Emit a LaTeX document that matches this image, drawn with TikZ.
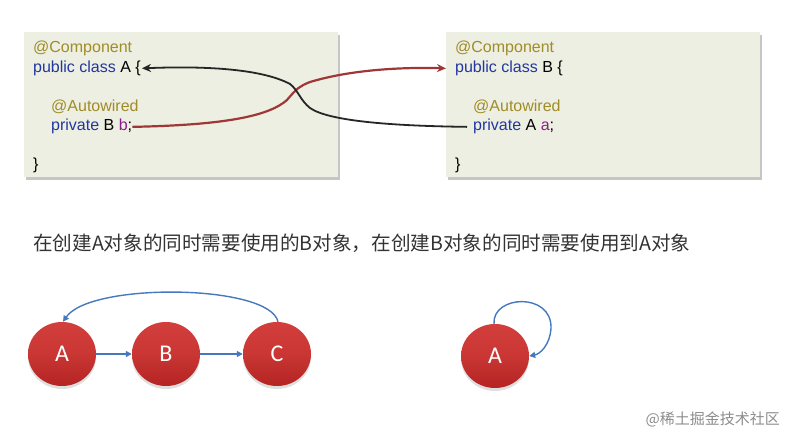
\documentclass[tikz,border=0pt]{standalone}
\usepackage{fontspec}
\setmainfont{Liberation Sans}
\newfontfamily\cjk{Noto Sans CJK SC}
\newfontfamily\calib{Carlito}
\usetikzlibrary{shapes.geometric,shadows,arrows.meta}
\definecolor{boxfill}{RGB}{236,239,225}
\definecolor{ann}{RGB}{160,140,40}
\definecolor{kw}{RGB}{35,55,160}
\definecolor{fld}{RGB}{140,30,140}
\definecolor{redline}{RGB}{160,55,55}
\definecolor{blueline}{RGB}{70,120,190}
\definecolor{balltop}{RGB}{210,62,60}
\definecolor{ballbot}{RGB}{180,36,34}
\begin{document}
\begin{tikzpicture}[x=1pt,y=-1pt,
  codebox/.style={fill=boxfill, draw=none, anchor=north west, minimum width=314pt, minimum height=145pt,
    drop shadow={opacity=0.45, shadow xshift=2pt, shadow yshift=-2.5pt}},
  code/.style={anchor=base west, inner sep=0pt, font=\fontsize{16}{19}\selectfont},
  ball/.style={ellipse, minimum width=68pt, minimum height=64pt, inner sep=0pt,
    top color=balltop, bottom color=ballbot, middle color=balltop!70!ballbot,
    text=white, font=\calib\fontsize{24}{26}\selectfont,
    drop shadow={opacity=0.25, shadow xshift=0pt, shadow yshift=-3pt}},
  bluearrow/.style={draw=blueline, line width=1.4pt, -{Triangle[length=6pt,width=6pt]}},
]
\useasboundingbox (0,0) rectangle (786,435);

% code boxes
\node[codebox] (boxA) at (24,32) {};
\node[codebox] (boxB) at (446,32) {};

% left box code
\node[code] (a1) at (33,53) {\color{ann}@Component};
\node[code] (a2) at (33,72.5) {\color{kw}public class \color{black}A \{};
\node[code] (a3) at (51,111.5) {\color{ann}@Autowired};
\node[code] (a4) at (51,131) {\color{kw}private \color{black}B \color{fld}b\color{black};};
\node[code] (a5) at (33,170) {\}};

% right box code
\node[code] (b1) at (455,53) {\color{ann}@Component};
\node[code] (b2) at (455,72.5) {\color{kw}public class \color{black}B \{};
\node[code] (b3) at (473,111.5) {\color{ann}@Autowired};
\node[code] (b4) at (473,131) {\color{kw}private \color{black}A \color{fld}a\color{black};};
\node[code] (b5) at (455,170) {\}};

% crossing connectors
\draw[redline, line width=2.2pt, -{Stealth[length=9pt,width=8pt]}]
  (a4.east) .. controls (230,125) and (270,115) .. (287,100)
  .. controls (297,88) and (300,86) .. (310,82)
  .. controls (350,70) and (400,67) .. ([xshift=-9pt]b2.west);
\draw[black!85, line width=1.8pt, -{Stealth[length=9pt,width=8pt]}]
  ([xshift=-6pt]b4.west) .. controls (400,126) and (330,122) .. (310,108)
  .. controls (300,100) and (298,90) .. (290,84)
  .. controls (260,68) and (200,66) .. ([xshift=1pt]a2.east);

% description
\node[anchor=base west, inner sep=0pt, text=black!80, font=\cjk\fontsize{19.6}{20}\selectfont] (desc) at (33,251)
  {在创建A对象的同时需要使用的B对象，在创建B对象的同时需要使用到A对象};

% cycle A -> B -> C -> A
\node[ball] (A1) at (62,354) {A};
\node[ball] (B1) at (166,354) {B};
\node[ball] (C1) at (277,354) {C};
\draw[bluearrow] (A1) -- (B1);
\draw[bluearrow] (B1) -- (C1);
\draw[bluearrow] ([xshift=1pt]C1.north) .. controls (270,284) and (90,282) .. ([xshift=1pt]A1.north);

% self loop
\node[ball] (A2) at (495,356) {A};
\draw[bluearrow] ([xshift=-1pt]A2.north) .. controls (492,295) and (552,292) .. (551,328)
  .. controls (550,345) and (540,354) .. (A2.east);

% watermark
\node[anchor=base east, inner sep=0pt, text=black!45, font=\cjk\fontsize{15}{16}\selectfont] (wm) at (780,424) {@稀土掘金技术社区};
\end{tikzpicture}
\end{document}
